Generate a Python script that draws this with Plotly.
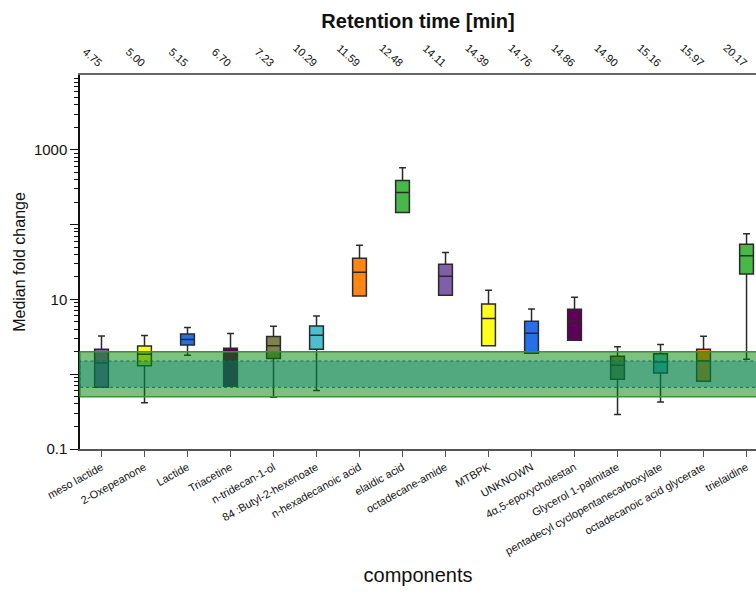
import plotly.graph_objects as go

# Components (bottom axis) and their retention times (top axis)
components = [
    "meso lactide", "2-Oxepeanone", "Lactide", "Triacetine", "n-tridecan-1-ol",
    "84 :Butyl-2-hexenoate", "n-hexadecanoic acid", "elaidic acid", "octadecane-amide",
    "MTBPK", "UNKNOWN", "4α,5-epoxycholestan", "Glycerol 1-palmitate",
    "pentadecyl cyclopentanecarboxylate", "octadecanoic acid glycerate", "trielaidine",
]
retention_times = ["4.75", "5.00", "5.15", "6.70", "7.23", "10.29", "11.59", "12.48",
                   "14.11", "14.39", "14.76", "14.86", "14.90", "15.16", "15.97", "20.17"]

# Box statistics of the fold change per component
lower_whisker = [0.668, 0.416, 1.79, 0.69, 0.493, 0.607, 11.1, 145, 11.4, 2.41, 1.91, 2.84, 0.290, 0.426, 0.807, 1.59]
q1 = [0.668, 1.30, 2.46, 0.69, 1.62, 2.16, 11.1, 145, 11.4, 2.41, 1.91, 2.84, 0.855, 1.04, 0.807, 21.9]
median = [1.41, 1.85, 2.90, 1.45, 2.41, 3.32, 23.1, 268, 20.4, 5.54, 3.53, 5.10, 1.32, 1.46, 1.50, 38.2]
q3 = [2.16, 2.39, 3.45, 2.23, 3.18, 4.42, 35.6, 388, 29.6, 8.71, 5.10, 7.40, 1.74, 1.88, 2.16, 54.7]
upper_whisker = [3.25, 3.28, 4.20, 3.49, 4.37, 6.0, 53.1, 574, 42.3, 13.3, 7.46, 10.7, 2.32, 2.49, 3.22, 75.2]

box_colors = ["#7f5fa8", "#ffff1a", "#2470e6", "#5e0058", "#808050", "#4cbfce", "#ff8515", "#48b848",
              "#7f5fa8", "#ffff1a", "#2470e6", "#5e0058", "#808050", "#4cbfce", "#ff8515", "#48b848"]

# Tolerance bands drawn over the boxes
outer_band = [0.5, 2.0]
inner_band = [0.667, 1.5]

font_family = "Liberation Sans, Arial, sans-serif"
positions = list(range(len(components)))

fig = go.Figure()
for i, name in enumerate(components):
    fig.add_trace(go.Box(
        x=[i], q1=[q1[i]], median=[median[i]], q3=[q3[i]],
        lowerfence=[lower_whisker[i]], upperfence=[upper_whisker[i]],
        name=name, fillcolor=box_colors[i],
        line=dict(color="#2a2a2a", width=1.5),
        width=0.32, whiskerwidth=0.5, boxpoints=False,
        showlegend=False, hoverinfo="y",
    ))

# Invisible trace anchoring the top (retention time) axis
fig.add_trace(go.Scatter(x=positions, y=[1] * len(positions), xaxis="x2",
                         mode="markers", marker=dict(opacity=0), showlegend=False,
                         hoverinfo="skip"))

fig.add_shape(type="rect", xref="paper", yref="y", x0=0, x1=1.02,
              y0=outer_band[0], y1=outer_band[1], layer="above",
              fillcolor="rgba(0,128,0,0.5)", line=dict(color="#2f9a2f", width=1.4))
fig.add_shape(type="rect", xref="paper", yref="y", x0=0, x1=1.02,
              y0=inner_band[0], y1=inner_band[1], layer="above",
              fillcolor="rgba(0,128,128,0.35)", line=dict(color="#007474", width=1, dash="dot"))

x_range = [-0.5, 15.22]
major_y = [0.1, 1, 10, 100, 1000]
major_text = ["0.1", "", "10", "", "1000"]
minor_y = [m * 10 ** e for e in range(-1, 4) for m in range(2, 10)]

fig.update_layout(
    width=756, height=592,
    margin=dict(l=80, r=0, t=75, b=143),
    plot_bgcolor="white", paper_bgcolor="white",
    font=dict(family=font_family, color="#111"),
    xaxis=dict(
        range=x_range, tickmode="array", tickvals=positions, ticktext=components,
        tickangle=-29, tickfont=dict(size=11), ticks="outside", ticklen=6,
        tickcolor="#555", showline=True, linecolor="#555", linewidth=1.5,
        showgrid=False, zeroline=False,
        title=dict(text="components", font=dict(size=20), standoff=12),
    ),
    xaxis2=dict(
        overlaying="x", side="top", range=x_range, tickmode="array",
        tickvals=positions, ticktext=retention_times, tickangle=42,
        tickfont=dict(size=11), ticks="", showline=True, linecolor="#666",
        linewidth=1.5, showgrid=False, zeroline=False,
        title=dict(text="<b>Retention time [min]</b>", font=dict(size=20), standoff=8),
    ),
    yaxis=dict(
        type="log", range=[-1, 4], tickmode="array", tickvals=major_y,
        ticktext=major_text, tickfont=dict(size=15), ticks="outside", ticklen=8,
        tickcolor="#111", showline=True, linecolor="#111", linewidth=1.5,
        showgrid=False, zeroline=False,
        minor=dict(tickmode="array", tickvals=minor_y, ticks="outside", ticklen=4,
                   tickcolor="#111", showgrid=False),
        title=dict(text="Median fold change", font=dict(size=16), standoff=4),
    ),
)

fig.write_html("out.html")
